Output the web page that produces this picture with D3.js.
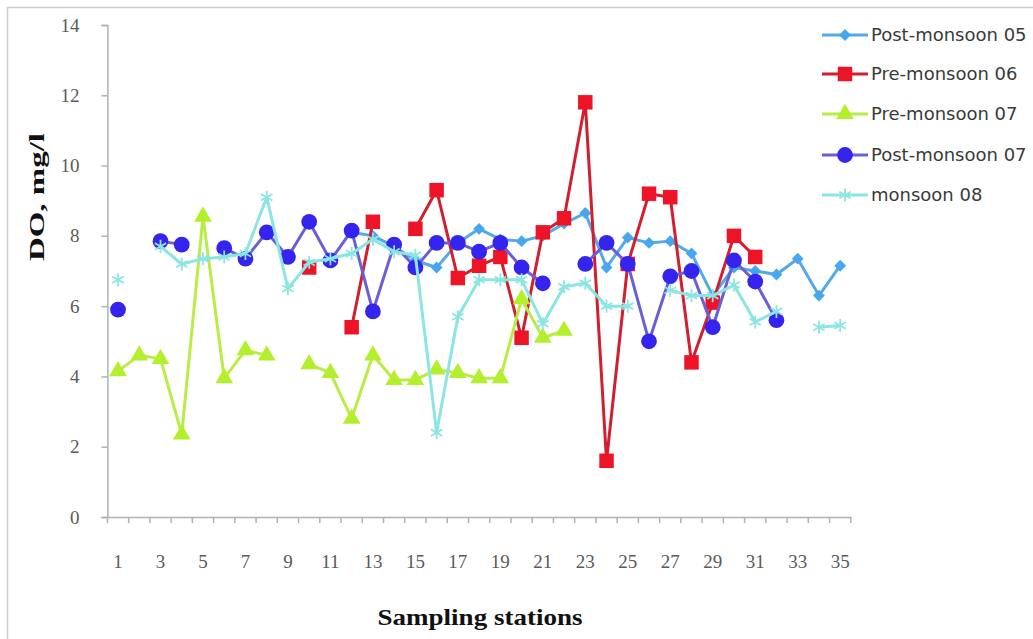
<!DOCTYPE html>
<html>
<head>
<meta charset="utf-8">
<script src="https://cdn.jsdelivr.net/npm/d3@7"></script>
<style>
  html, body { margin: 0; padding: 0; background: #fff; }
  svg { display: block; }
</style>
</head>
<body>
<svg id="chart" width="1033" height="639"></svg>
<script>
// ---- data ----
const stations = d3.range(1, 36);
const xTickLabels = [1,3,5,7,9,11,13,15,17,19,21,23,25,27,29,31,33,35];
const yTicks = [0,2,4,6,8,10,12,14];
const seriesNames = ["Post-monsoon 05","Pre-monsoon 06","Pre-monsoon 07","Post-monsoon 07","monsoon 08"];

// values per station 1..35 (null = no sample)
const postMonsoon05 = [null,null,null,null,null,null,null,null,null,null,null,8.1,8.0,7.7,7.3,7.1,7.8,8.2,7.9,7.85,8.0,8.35,8.65,7.1,7.95,7.8,7.85,7.5,6.3,7.1,7.0,6.9,7.35,6.3,7.15];
const preMonsoon06 = [null,null,null,null,null,null,null,null,null,7.1,null,5.4,8.4,null,8.2,9.3,6.8,7.15,7.4,5.1,8.1,8.5,11.8,1.6,7.2,9.2,9.1,4.4,6.1,8.0,7.4,null,null,null,null];
const preMonsoon07 = [4.15,4.6,4.5,2.35,8.55,3.95,4.75,4.6,null,4.35,4.1,2.8,4.6,3.9,3.9,4.2,4.1,3.95,3.95,6.2,5.1,5.3,null,null,null,null,null,null,null,null,null,null,null,null,null];
const postMonsoon07 = [5.9,null,7.85,7.75,null,7.65,7.35,8.1,7.4,8.4,7.3,8.15,5.85,7.75,7.1,7.8,7.8,7.55,7.8,7.1,6.65,null,7.2,7.8,7.2,5.0,6.85,7.0,5.4,7.3,6.7,5.6,null,null,null];
const monsoon08 = [6.75,null,7.7,7.2,7.35,7.4,7.5,9.1,6.5,7.25,7.35,7.5,7.9,7.55,7.45,2.4,5.7,6.75,6.75,6.75,5.5,6.55,6.65,6.0,6.0,null,6.45,6.3,6.3,6.6,5.55,5.85,null,5.4,5.45];

const styles = [
  {line:"#55A9E6", fill:"#47A7EE", marker:"diamond"},
  {line:"#D21F30", fill:"#EE1428", marker:"square"},
  {line:"#B9EC45", fill:"#B3EF2C", marker:"triangle"},
  {line:"#6A5FD6", fill:"#3424EE", marker:"circle"},
  {line:"#8AE5E3", fill:"#8AE5E3", marker:"star"}
];
const allSeries = [postMonsoon05, preMonsoon06, preMonsoon07, postMonsoon07, monsoon08];

// ---- layout ----
const svg = d3.select("#chart");
const plotLeft = 107.4, plotRight = 850.8, plotTop = 25, plotBottom = 517;

const x = d3.scaleBand().domain(stations).range([plotLeft, plotRight]).padding(0);
const xc = d => x(d) + x.bandwidth() / 2;
const y = d3.scaleLinear().domain([0, 14]).range([plotBottom, plotTop]);

// outer frame
svg.append("rect").attr("x", 7.5).attr("y", 7.5).attr("width", 1040).attr("height", 650)
  .attr("fill", "none").attr("stroke", "#C9CDCD").attr("stroke-width", 1.5);

// y axis
const yAxis = svg.append("g").attr("transform", `translate(${plotLeft},0)`)
  .call(d3.axisLeft(y).tickValues(yTicks).tickSize(6).tickPadding(22).tickFormat(d3.format("d")));
yAxis.select(".domain").attr("stroke", "#AEB2B2").attr("stroke-width", 1.5);
yAxis.selectAll(".tick line").attr("stroke", "#AEB2B2").attr("stroke-width", 1.5);
yAxis.selectAll(".tick text").attr("font-family", "'Liberation Serif', serif")
  .attr("font-size", 19).attr("fill", "#5a5a5a");

// x axis
const xAxis = svg.append("g").attr("transform", `translate(0,${plotBottom})`)
  .call(d3.axisBottom(x).tickValues(xTickLabels).tickSize(0).tickPadding(38).tickSizeOuter(0));
xAxis.select(".domain").attr("stroke", "#AEB2B2").attr("stroke-width", 1.5);
xAxis.selectAll(".tick text").attr("font-family", "'Liberation Serif', serif")
  .attr("font-size", 19).attr("fill", "#5a5a5a");
// boundary tick marks between categories
const bounds = stations.map(d => x(d)).concat([x(35) + x.bandwidth()]);
xAxis.selectAll("line.bt").data(bounds).enter().append("line").attr("class", "bt")
  .attr("x1", d => d).attr("x2", d => d).attr("y1", 0).attr("y2", 6)
  .attr("stroke", "#AEB2B2").attr("stroke-width", 1.5);

// axis titles
svg.append("text").attr("transform", "translate(44,197) rotate(-90)")
  .attr("text-anchor", "middle").attr("font-family", "'Liberation Serif', serif")
  .attr("font-weight", "bold").attr("font-size", 22).attr("fill", "#111")
  .attr("textLength", 128).attr("lengthAdjust", "spacingAndGlyphs")
  .text("DO, mg/l");
svg.append("text").attr("x", 480).attr("y", 625)
  .attr("text-anchor", "middle").attr("font-family", "'Liberation Serif', serif")
  .attr("font-weight", "bold").attr("font-size", 23).attr("fill", "#111")
  .attr("textLength", 205).attr("lengthAdjust", "spacingAndGlyphs")
  .text("Sampling stations");

// markers
function drawMarker(g, type, cx, cy, st, scale = 1) {
  if (type === "diamond") {
    g.append("path").attr("d", d3.symbol(d3.symbolSquare, 70 * scale)())
      .attr("transform", `translate(${cx},${cy}) rotate(45)`).attr("fill", st.fill);
  } else if (type === "square") {
    g.append("path").attr("d", d3.symbol(d3.symbolSquare, 210 * scale)())
      .attr("transform", `translate(${cx},${cy})`).attr("fill", st.fill);
  } else if (type === "triangle") {
    g.append("path").attr("d", d3.symbol(d3.symbolTriangle, 135 * scale)())
      .attr("transform", `translate(${cx},${cy})`).attr("fill", st.fill);
  } else if (type === "circle") {
    g.append("path").attr("d", d3.symbol(d3.symbolCircle, 195 * scale)())
      .attr("transform", `translate(${cx},${cy})`).attr("fill", st.fill);
  } else if (type === "star") {
    g.append("path").attr("d", d3.symbol(d3.symbolAsterisk, 120 * scale)())
      .attr("transform", `translate(${cx},${cy})`).attr("fill", "none")
      .attr("stroke", st.fill).attr("stroke-width", 1.8);
  }
}

const line = d3.line().defined(d => d.v != null).x(d => xc(d.s)).y(d => y(d.v));

allSeries.forEach((vals, i) => {
  const st = styles[i];
  const data = stations.map((s, k) => ({s, v: vals[k]}));
  const g = svg.append("g");
  g.append("path").datum(data).attr("d", line).attr("fill", "none")
    .attr("stroke", st.line).attr("stroke-width", 3).attr("stroke-linejoin", "round");
  data.filter(d => d.v != null).forEach(d => drawMarker(g, st.marker, xc(d.s), y(d.v), st));
});

// legend
const legend = svg.append("g");
const legendY = [35, 74, 114, 155, 195];
seriesNames.forEach((name, i) => {
  const st = styles[i];
  const gy = legendY[i];
  legend.append("line").attr("x1", 822).attr("x2", 868).attr("y1", gy).attr("y2", gy)
    .attr("stroke", st.line).attr("stroke-width", 3);
  drawMarker(legend, st.marker, 845, gy, st);
  legend.append("text").attr("x", 871).attr("y", gy).attr("dy", "0.35em")
    .attr("font-family", "'DejaVu Sans', sans-serif").attr("font-size", 18)
    .attr("fill", "#3a3a3a").text(name);
});
</script>
</body>
</html>
